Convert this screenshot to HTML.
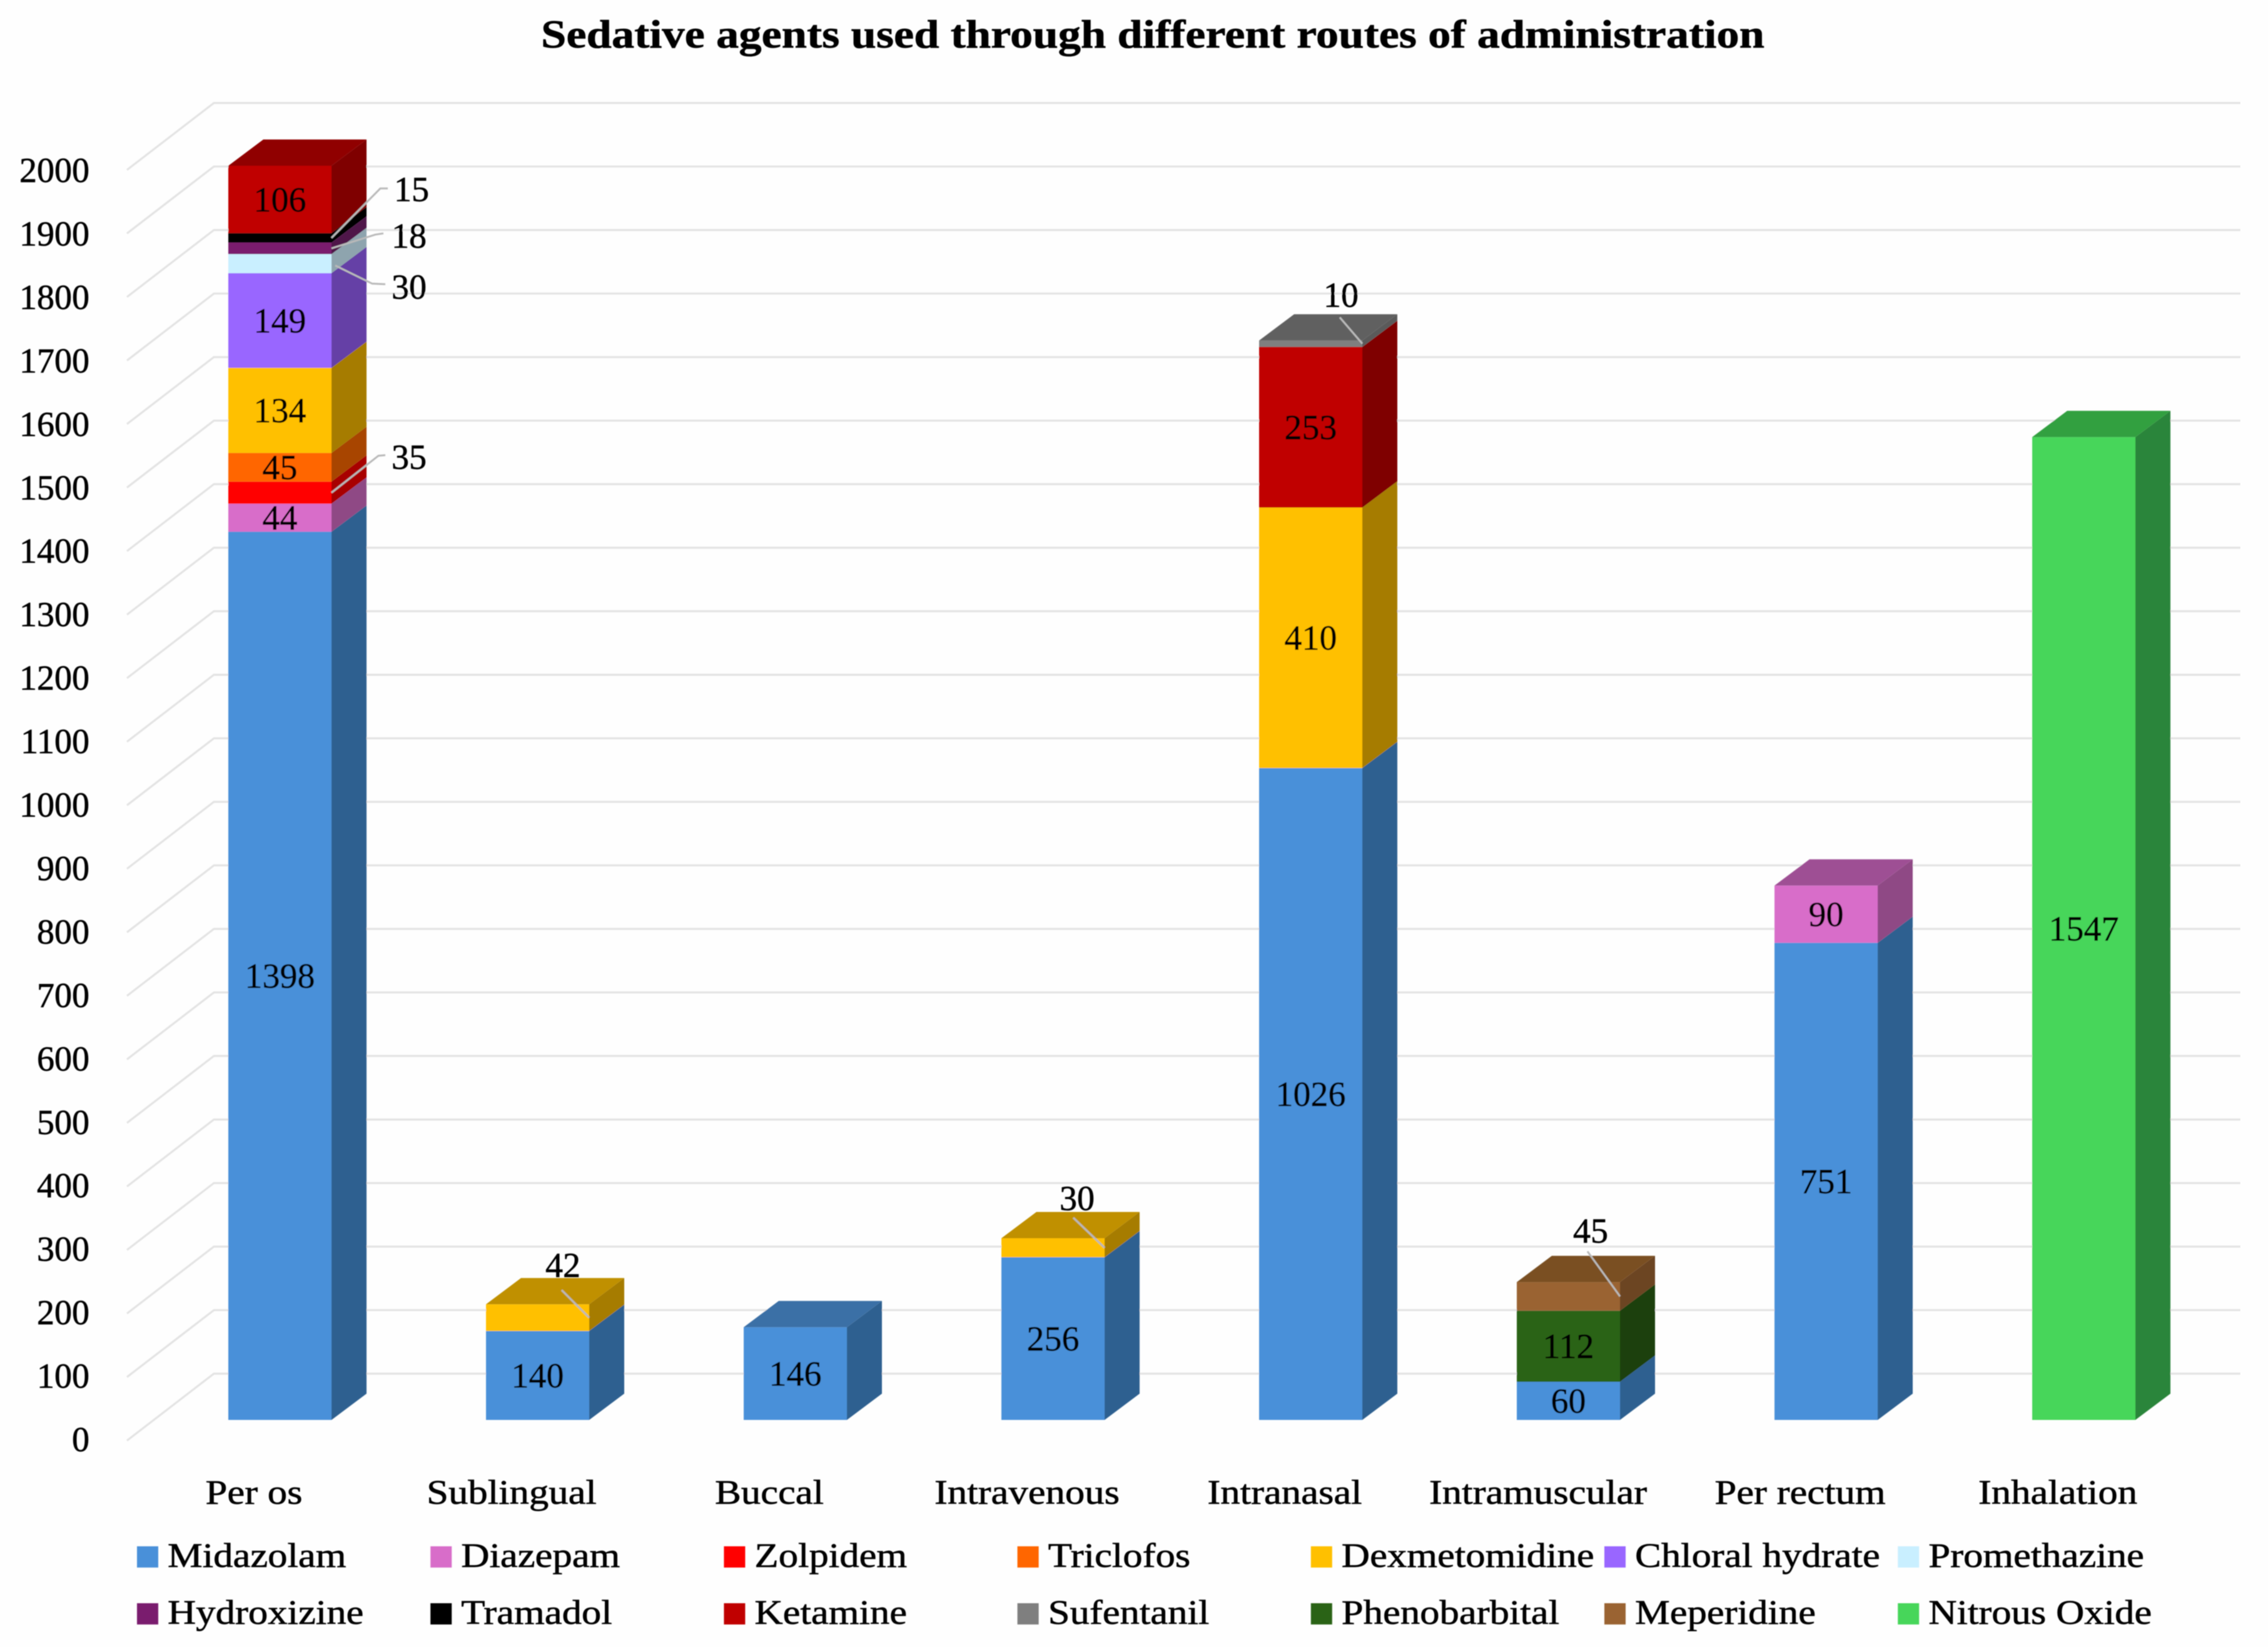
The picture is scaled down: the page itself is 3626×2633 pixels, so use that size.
<!DOCTYPE html>
<html lang="en">
<head>
<meta charset="utf-8">
<title>Sedative agents used through different routes of administration</title>
<style>
html,body{margin:0;padding:0;background:#fefefe;}
svg{display:block;}
text{font-family:"Liberation Serif","DejaVu Serif",serif;fill:#000;stroke:#000;stroke-width:0.7;}
</style>
</head>
<body>
<svg id="chart" xmlns="http://www.w3.org/2000/svg" width="3626" height="2633" viewBox="0 0 3626 2633">
  <defs><filter id="soft" x="0" y="0" width="100%" height="100%"><feGaussianBlur stdDeviation="0.9"/></filter></defs>
  <rect x="0" y="0" width="3626" height="2633" fill="#fefefe"/>
  <g id="root" filter="url(#soft)">
    <text x="1843" y="76" text-anchor="middle" font-size="63" font-weight="700" textLength="1956" lengthAdjust="spacingAndGlyphs">Sedative agents used through different routes of administration</text>
    <g id="grid"></g>
    <g id="ticks"></g>
    <g id="bars"></g>
    <g id="leaders"></g>
    <g id="labels"></g>
    <g id="cats"></g>
    <g id="legend"></g>
  </g>
</svg>
<script>
// ---- data ----
const categories = ['Per os','Sublingual','Buccal','Intravenous','Intranasal','Intramuscular','Per rectum','Inhalation'];
const yTicks = [0,100,200,300,400,500,600,700,800,900,1000,1100,1200,1300,1400,1500,1600,1700,1800,1900,2000];
const midazolam     = [1398,140,146,256,1026,60,751,0];
const diazepam      = [44,0,0,0,0,0,90,0];
const zolpidem      = [35,0,0,0,0,0,0,0];
const triclofos     = [45,0,0,0,0,0,0,0];
const dexmetomidine = [134,42,0,30,410,0,0,0];
const chloralHydrate= [149,0,0,0,0,0,0,0];
const promethazine  = [30,0,0,0,0,0,0,0];
const hydroxizine   = [18,0,0,0,0,0,0,0];
const tramadol      = [15,0,0,0,0,0,0,0];
const ketamine      = [106,0,0,0,253,0,0,0];
const sufentanil    = [0,0,0,0,10,0,0,0];
const phenobarbital = [0,0,0,0,0,112,0,0];
const meperidine    = [0,0,0,0,0,45,0,0];
const nitrousOxide  = [0,0,0,0,0,0,0,1547];
const seriesNames = ['Midazolam','Diazepam','Zolpidem','Triclofos','Dexmetomidine','Chloral hydrate','Promethazine','Hydroxizine','Tramadol','Ketamine','Sufentanil','Phenobarbital','Meperidine','Nitrous Oxide'];
const seriesValues = [midazolam,diazepam,zolpidem,triclofos,dexmetomidine,chloralHydrate,promethazine,hydroxizine,tramadol,ketamine,sufentanil,phenobarbital,meperidine,nitrousOxide];

// ---- styling (not data) ----
const faceColors = ['#4a90d9','#d86dc9','#ff0000','#ff6600','#ffc000','#9966ff','#c9efff','#7a1f6e','#000000','#c00000','#7f7f7f','#2c6319','#9a6430','#47d65a'];
const sideColors = ['#2f6190','#8f4a85','#a80000','#a84400','#a67c00','#6540a6','#8ea4ae','#4f134a','#000000','#7f0000','#5a5a5a','#1c4010','#6c4420','#2a853a'];
const topColors  = ['#3a70a6','#9e4f94','#c00000','#c05000','#c09000','#7a50c0','#a0c0d0','#5f1856','#222222','#900000','#606060','#234f14','#7a5024','#33a040'];
// callout layout, keyed by series|category, relative to the segment's front-right mid point
const callouts = {
  '8|0':{e:[78,-79],t:[90,-79],l:[128,-78]},
  '7|0':{e:[70,-22],t:[83,-24],l:[124,-20]},
  '6|0':{s:[6,3],e:[65,32],t:[86,33],l:[124,37]},
  '2|0':{e:[75,-59],t:[86,-60],l:[124,-57]},
  '10|4':{t:[-36,-42],l:[-34,-78]},
  '4|1':{t:[-44,-44],l:[-42,-84]},
  '4|3':{t:[-50,-48],l:[-44,-79]},
  '12|5':{t:[-52,-72],l:[-47,-105]}
};

// ---- axis functions ----
const NS = 'http://www.w3.org/2000/svg';
const scaleY = 1.0157;
const barBase = 2270, gridBackZero = 2196, gridFrontZero = 2303;
const barWidth = 165, depthX = 56, depthY = 42;
const barX = i => 365 + 412 * i;
const barY = v => barBase - v * scaleY;
const gridBackY = v => gridBackZero - v * scaleY;
const gridFrontY = v => gridFrontZero - v * scaleY;
const tickY = v => 2301 - v * 1.0145 + 19;
const catNudge = i => (i === 5 ? -7 : 0);
const make = (tag, parent, attrs, txt) => {
  const n = document.createElementNS(NS, tag);
  for (const k in attrs) n.setAttribute(k, attrs[k]);
  if (txt !== undefined) n.textContent = txt;
  parent.appendChild(n);
  return n;
};
const gridG = document.getElementById('grid');
const ticksG = document.getElementById('ticks');
const barsG = document.getElementById('bars');
const leadersG = document.getElementById('leaders');
const labelsG = document.getElementById('labels');
const catsG = document.getElementById('cats');
const legendG = document.getElementById('legend');

// gridlines and y ticks
yTicks.forEach(v => {
  const d = make('polyline', gridG, {points: `203,${gridFrontY(v)} 342,${gridBackY(v)} 3582,${gridBackY(v)}`, fill: 'none', stroke: '#e3e3e3', 'stroke-width': 3.2});
  
  
  const t = make('text', ticksG, {x: 143, y: tickY(v), 'text-anchor': 'end', 'font-size': 56}, String(v));
  
  
});

// stacked 3D bars
categories.forEach((cat, c) => {
  const g = make('g', barsG, {});
  
  
  const x = barX(c), r = x + barWidth;
  let acc = 0, topIdx = -1;
  seriesValues.forEach((vals, s) => { if (vals[c] > 0) topIdx = s; });
  seriesValues.forEach((vals, s) => {
    const v = vals[c];
    if (!(v > 0)) return;
    const y0 = barY(acc), y1 = barY(acc + v), mid = barY(acc + v / 2);
    const slug = seriesNames[s].toLowerCase().replace(/\s+/g, '-');
    const face = make('rect', g, {x: x, y: y1, width: barWidth, height: y0 - y1, fill: faceColors[s]});
    
    
    const side = make('polygon', g, {points: `${r},${y0} ${r},${y1} ${r+depthX},${y1-depthY} ${r+depthX},${y0-depthY}`, fill: sideColors[s]});
    
    
    if (s === topIdx) {
      const top = make('polygon', g, {points: `${x},${y1} ${r},${y1} ${r+depthX},${y1-depthY} ${x+depthX},${y1-depthY}`, fill: topColors[s]});
      
      
    }
    const key = s + '|' + c;
    const co = callouts[key];
    let lx = x + barWidth / 2, ly = mid;
    if (co) {
      const st = co.s || [0, 0];
      const pts = [[r + st[0], mid + st[1]]];
      if (co.e) pts.push([r + co.e[0], mid + co.e[1]]);
      pts.push([r + co.t[0], mid + co.t[1]]);
      const leader = make('polyline', leadersG, {points: pts.map(p => p.join(',')).join(' '), fill: 'none', stroke: '#b9b9b9', 'stroke-width': 3});
      
      
      lx = r + co.l[0];
      ly = mid + co.l[1];
    }
    const label = make('text', labelsG, {x: lx, y: ly + 19, 'text-anchor': 'middle', 'font-size': 56}, String(v));
    
    
    acc += v;
  });
  const cx = 406 + 412 * c + catNudge(c);
  const catLabel = make('text', catsG, {transform: `translate(${cx},2404) scale(1.14,1)`, 'text-anchor': 'middle', 'font-size': 55}, cat);
  
  
});

// legend
seriesNames.forEach((name, i) => {
  const col = i % 7, row = Math.floor(i / 7);
  const g = make('g', legendG, {});
  
  
  const sx = 219 + 469.2 * col, cy = 2489 + 91 * row;
  const sw = make('rect', g, {x: sx, y: cy - 17, width: 34, height: 34, fill: faceColors[i]});
  
  
  const t = make('text', g, {transform: `translate(${sx + 49},${cy + 16}) scale(1.14,1)`, 'font-size': 55}, name);
  
  
});
</script>
</body>
</html>
